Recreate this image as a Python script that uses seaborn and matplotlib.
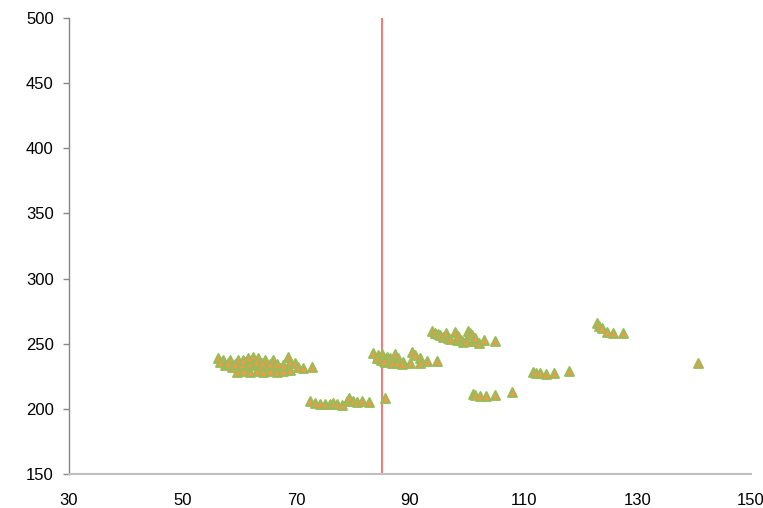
import matplotlib
matplotlib.use("Agg")
import matplotlib.pyplot as plt
import seaborn as sns
import pandas as pd

# Data
x_vals = [
    # cluster around x 56-73, y ~230-240
    56.2, 57.1, 58.3, 59.7, 61.0, 62.4, 63.3, 64.5, 65.9, 68.5, 68.9, 69.8, 70.3, 71.2, 72.8,
    57.5, 58.7, 60.1, 61.3, 62.4, 63.6, 64.8, 65.9, 67.1, 68.0, 68.9,
    59.6, 60.6, 61.8, 63.1, 64.1, 65.4, 66.6, 67.7,
    56.6, 58.0, 59.2, 60.4, 61.8, 62.9, 64.0, 65.4, 66.6, 67.7, 61.5, 60.6,
    # cluster around x 72-86, y ~205
    72.4, 73.3, 74.2, 75.0, 75.9, 76.5, 77.2, 78.0, 78.9, 79.3, 80.0, 80.7, 81.6, 82.8, 85.6,
    # cluster around x 83-95, y ~235-243
    83.5, 84.4, 85.1, 86.0, 86.5, 87.4, 87.9, 88.8, 90.0, 90.4, 90.9, 91.8, 91.8, 93.0, 94.8,
    85.6, 86.8, 87.7, 88.6, 84.2, 84.9, 85.4,
    # cluster around x 94-105, y ~250-260
    93.9, 94.4, 94.9, 95.3, 95.8, 96.3, 96.7, 97.0, 97.9, 98.3, 98.5, 99.0, 99.3, 99.9,
    100.2, 100.6, 100.9, 101.1, 101.4, 102.1, 103.0, 105.0,
    # cluster around x 101-108, y ~210
    101.1, 101.4, 102.3, 103.4, 105.0, 108.0,
    # cluster around x 111-118, y ~228
    111.6, 112.2, 112.9, 113.9, 115.3, 118.0,
    # cluster around x 123-128, y ~260 and outlier
    122.9, 123.3, 123.8, 124.7, 125.7, 127.5, 140.7,
]
y_vals = [
    239.0, 237.5, 237.5, 237.5, 236.0, 239.8, 239.0, 237.5, 237.5, 239.8, 236.0, 235.2, 232.1, 231.4, 232.1,
    233.7, 232.1, 232.1, 232.1, 233.7, 232.1, 231.4, 232.1, 231.4, 229.8, 229.8,
    228.3, 229.0, 228.3, 229.0, 228.3, 229.0, 228.3, 229.0,
    236.0, 235.2, 234.4, 234.4, 235.2, 236.0, 235.2, 234.4, 234.4, 233.7, 239.0, 237.5,
    206.0, 204.5, 203.7, 203.7, 203.7, 204.5, 203.7, 203.0, 206.0, 208.3, 206.0, 205.3, 206.0, 205.3, 208.3,
    242.9, 241.3, 242.1, 239.8, 239.0, 242.1, 239.0, 236.0, 235.2, 243.6, 241.3, 239.0, 235.2, 236.7, 236.7,
    236.0, 235.2, 235.2, 234.4, 239.0, 237.5, 236.7,
    259.7, 258.2, 257.4, 256.7, 255.1, 258.2, 254.4, 253.6, 259.0, 252.8, 255.9, 252.8, 251.3, 252.1,
    259.7, 258.2, 256.7, 252.1, 254.4, 250.5, 252.8, 252.1,
    211.4, 210.6, 209.9, 209.9, 210.6, 212.9,
    228.3, 227.5, 227.5, 226.7, 227.5, 229.0,
    265.9, 263.6, 262.0, 259.0, 258.2, 258.2, 235.2,
]
threshold_x = 85
x_ticks = [30, 50, 70, 90, 110, 130, 150]
y_ticks = [150, 200, 250, 300, 350, 400, 450, 500]

df = pd.DataFrame({"x": x_vals, "y": y_vals})

sns.set_style("white")
plt.rcParams["font.family"] = ["Liberation Sans", "DejaVu Sans"]

fig = plt.figure(figsize=(7.63, 5.08), dpi=100)
ax = fig.add_axes([69 / 763, 34 / 508, (751 - 69) / 763, (474 - 18) / 508])

ax.axvline(threshold_x, color="#F47C7C", linewidth=1.5, zorder=1)
sns.scatterplot(data=df, x="x", y="y", ax=ax, marker="^", s=40,
                color="#F79646", edgecolor="#9BBB59", linewidth=1.5, zorder=3)

ax.set_xlim(30, 150)
ax.set_ylim(150, 500)
ax.set_xticks(x_ticks)
ax.set_yticks(y_ticks)
ax.set_xticklabels([str(t) for t in x_ticks])
ax.set_yticklabels([str(t) for t in y_ticks])
ax.set_xlabel("")
ax.set_ylabel("")

for side in ["top", "right"]:
    ax.spines[side].set_visible(False)
ax.spines["left"].set_color("#868686")
ax.spines["bottom"].set_color("#BFBFBF")
ax.spines["left"].set_linewidth(1.0)
ax.spines["bottom"].set_linewidth(1.5)

ax.tick_params(axis="y", length=4, width=1, color="#868686", pad=7, labelsize=12, labelcolor="black", left=True)
ax.tick_params(axis="x", length=0, pad=14, labelsize=12, labelcolor="black")
ax.grid(False)

fig.savefig("out.png", dpi=100)
